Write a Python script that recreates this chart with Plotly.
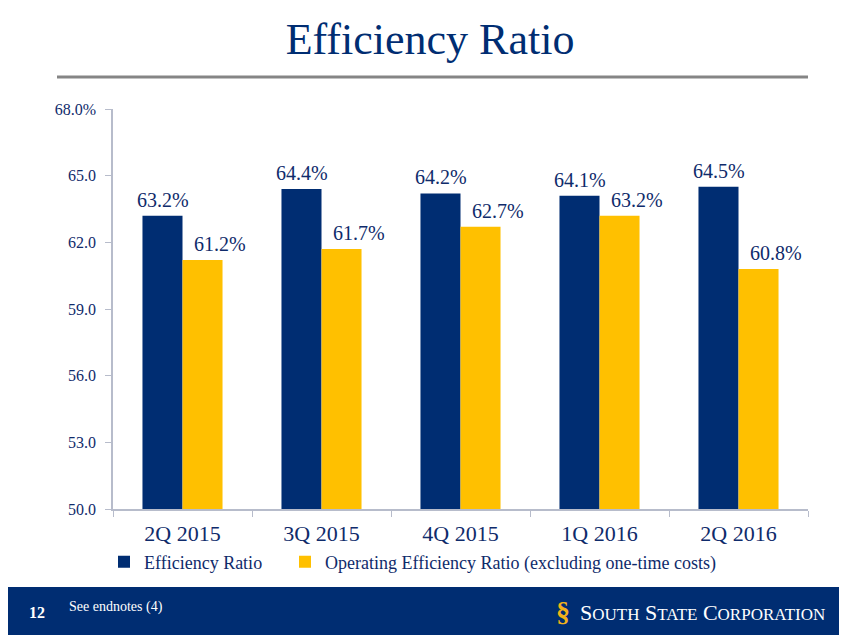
import plotly.graph_objects as go

categories = ["2Q 2015", "3Q 2015", "4Q 2015", "1Q 2016", "2Q 2016"]
efficiency = [63.2, 64.4, 64.2, 64.1, 64.5]
operating = [61.2, 61.7, 62.7, 63.2, 60.8]
tick_vals = [50, 53, 56, 59, 62, 65, 68]
tick_text = ["50.0", "53.0", "56.0", "59.0", "62.0", "65.0", "68.0%"]

NAVY = "#002D72"
GOLD = "#FFC000"
TXT = "#0F2B6B"
FONT = "Liberation Serif"

# page is rendered with an 8px body margin; work in page coordinates
OFF = 8
W, H = 847 - OFF, 635 - OFF
PL, PR, PT, PB = 113, 808, 109, 509  # plot area in page coords
L, R, T, B = PL - OFF, W - (PR - OFF), PT - OFF, H - (PB - OFF)
pw, ph = PR - PL, PB - PT


def px(x):
    return (x - PL) / pw


def py(y):
    return (PB - y) / ph


fig = go.Figure()
fig.add_trace(go.Bar(x=categories, y=efficiency, name="Efficiency Ratio",
                     marker=dict(color=NAVY, line=dict(width=0)), legend="legend"))
fig.add_trace(go.Bar(x=categories, y=operating,
                     name="Operating Efficiency Ratio (excluding one-time costs)",
                     marker=dict(color=GOLD, line=dict(width=0)), legend="legend2"))

for c, v in zip(categories, efficiency):
    fig.add_annotation(x=c, y=v, text=f"{v:.1f}%", showarrow=False, xshift=-20,
                       yanchor="bottom", yshift=3, font=dict(family=FONT, size=20, color=TXT))
for c, v in zip(categories, operating):
    fig.add_annotation(x=c, y=v, text=f"{v:.1f}%", showarrow=False, xshift=37,
                       yanchor="bottom", yshift=3, font=dict(family=FONT, size=20, color=TXT))

# footer band
fig.add_shape(type="rect", xref="paper", yref="paper", x0=px(0), x1=px(860), y0=py(587), y1=py(650),
              fillcolor=NAVY, line=dict(width=0), layer="below")
# title rule
fig.add_shape(type="line", xref="paper", yref="paper", x0=px(57), x1=px(808), y0=py(77), y1=py(77),
              line=dict(color="#858585", width=3))

fig.add_annotation(xref="paper", yref="paper", x=px(37), y=py(612), text="<b>12</b>", showarrow=False,
                   xanchor="center", yanchor="middle", font=dict(family=FONT, size=16, color="white"))
fig.add_annotation(xref="paper", yref="paper", x=px(67), y=py(607), text="See endnotes (4)", showarrow=False,
                   xanchor="left", yanchor="middle", font=dict(family=FONT, size=14, color="white"))
fig.add_annotation(xref="paper", yref="paper", x=px(563), y=py(611), text="<b>§</b>", showarrow=False,
                   xanchor="center", yanchor="middle", font=dict(family=FONT, size=28, color="#F2B21B"))
fig.add_annotation(xref="paper", yref="paper", x=px(578), y=py(612),
                   text="S<span style='font-size:17px'>OUTH</span> S<span style='font-size:17px'>TATE</span> C<span style='font-size:17px'>ORPORATION</span>",
                   showarrow=False, xanchor="left", yanchor="middle",
                   font=dict(family=FONT, size=22, color="white"))

fig.update_layout(
    width=W, height=H,
    margin=dict(l=L, r=R, t=T, b=B, autoexpand=False),
    paper_bgcolor="white", plot_bgcolor="white",
    barmode="group", bargap=0.424, bargroupgap=0,
    title=dict(text="Efficiency Ratio", x=(430 - OFF) / W, xanchor="center",
               y=1 - (39 - OFF) / H, yanchor="middle",
               font=dict(family=FONT, size=44, color=NAVY)),
    font=dict(family=FONT, color=TXT),
    showlegend=True,
    legend=dict(orientation="h", x=px(104), xanchor="left", y=py(562), yanchor="middle",
                font=dict(family=FONT, size=18, color=TXT), itemwidth=30, bgcolor="rgba(0,0,0,0)"),
    legend2=dict(orientation="h", x=px(285), xanchor="left", y=py(562), yanchor="middle",
                 font=dict(family=FONT, size=18, color=TXT), itemwidth=30, bgcolor="rgba(0,0,0,0)"),
    xaxis=dict(showline=True, linecolor="#B7BCCB", linewidth=1.5, ticks="outside", tickson="boundaries",
               ticklen=6, tickcolor="#B7BCCB", tickfont=dict(family=FONT, size=22, color=TXT),
               ticklabelstandoff=4, showgrid=False, fixedrange=True),
    yaxis=dict(range=[50, 68], tickvals=tick_vals, ticktext=tick_text, showline=True,
               linecolor="#B7BCCB", linewidth=1.5, ticks="outside", ticklen=6, tickcolor="#B7BCCB",
               tickfont=dict(family=FONT, size=16, color=TXT), ticklabelstandoff=6,
               showgrid=False, zeroline=False, fixedrange=True),
)

fig.write_html("out.html")
